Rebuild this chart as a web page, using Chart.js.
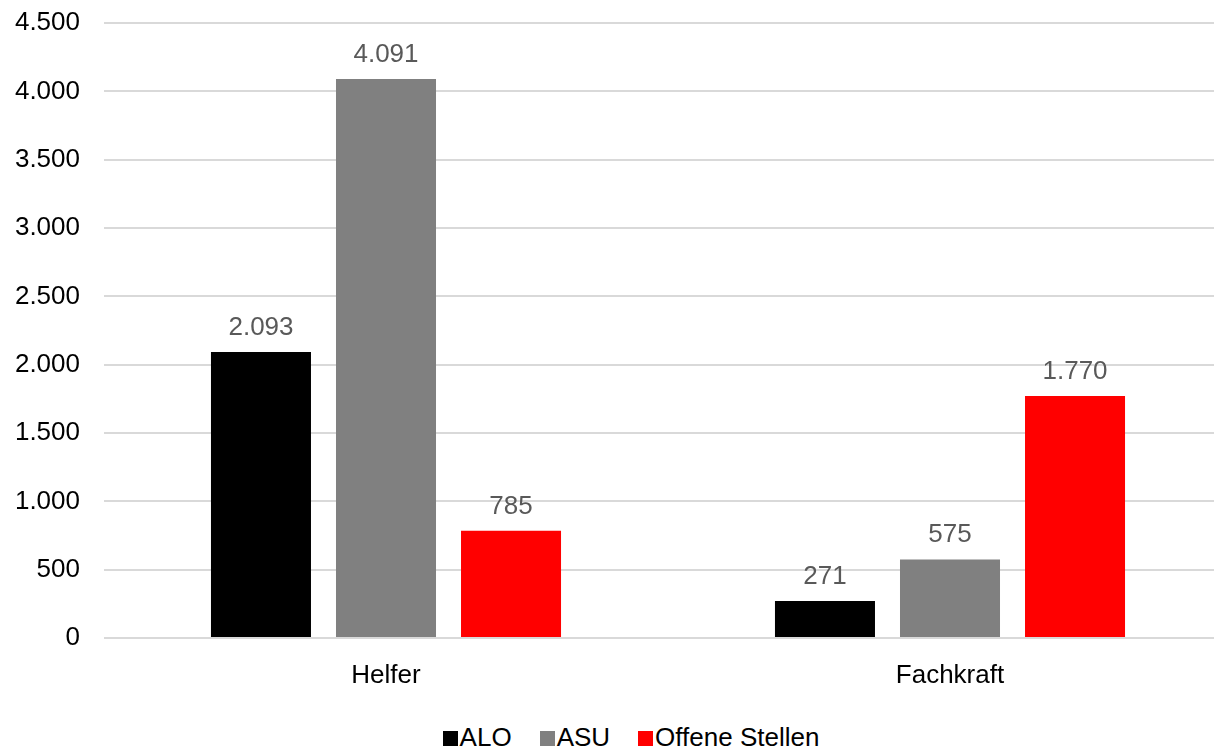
<!DOCTYPE html>
<html>
<head>
<meta charset="utf-8">
<script src="https://cdn.jsdelivr.net/npm/chart.js@4"></script>
<style>
  html, body { margin: 0; padding: 0; background: #fff; }
  #wrap { width: 1214px; height: 750px; overflow: hidden; position: relative; }
  #inner { width: 1264px; height: 750px; position: relative; }
  #legend {
    position: absolute; left: 0; top: 722px; width: 1262px;
    text-align: center; font: 26px 'Liberation Sans', Arial, sans-serif;
    line-height: 30px; color: #000; white-space: nowrap;
  }
  #legend span.item { margin: 0 14px; }
  #legend span.box {
    display: inline-block; width: 15px; height: 15px;
    margin-right: 2px; vertical-align: baseline;
  }
</style>
</head>
<body>
<div id="wrap"><div id="inner">
  <canvas id="barChart" width="1264" height="700"></canvas>
  <div id="legend"></div>
</div></div>
<script>
const categories = ['Helfer', 'Fachkraft'];
const seriesNames = ['ALO', 'ASU', 'Offene Stellen'];
const aloValues = [2093, 271];
const asuValues = [4091, 575];
const offeneValues = [785, 1770];
const yTicks = [0, 500, 1000, 1500, 2000, 2500, 3000, 3500, 4000, 4500];

const fmt = v => String(v).replace(/\B(?=(\d{3})+(?!\d))/g, '.');
const font = 'Liberation Sans, Arial, sans-serif';

const valueLabels = {
  id: 'valueLabels',
  afterDatasetsDraw: (chart) => {
    const {ctx} = chart;
    ctx.save();
    ctx.font = '26px ' + font;
    ctx.fillStyle = '#595959';
    ctx.textAlign = 'center';
    ctx.textBaseline = 'alphabetic';
    chart.data.datasets.forEach((ds, i) => {
      chart.getDatasetMeta(i).data.forEach((bar, j) => {
        ctx.fillText(fmt(ds.data[j]), bar.x, bar.y - 17);
      });
    });
    ctx.restore();
  }
};

const ctx = document.getElementById('barChart').getContext('2d');
const chart = new Chart(ctx, {
  type: 'bar',
  data: {
    labels: categories,
    datasets: [
      { label: seriesNames[0], data: aloValues, backgroundColor: '#000000' },
      { label: seriesNames[1], data: asuValues, backgroundColor: '#808080' },
      { label: seriesNames[2], data: offeneValues, backgroundColor: '#ff0000' }
    ]
  },
  options: {
    responsive: false,
    animation: false,
    layout: { padding: { top: 23, right: 32, left: 0, bottom: 0 } },
    datasets: { bar: { categoryPercentage: 0.665, barPercentage: 0.8 } },
    plugins: {
      legend: { display: false },
      tooltip: { enabled: false }
    },
    scales: {
      x: {
        grid: { display: false },
        border: { display: false },
        ticks: { font: { family: font, size: 26 }, color: '#000', padding: 14 },
        afterFit: s => { s.height = 62; s.paddingLeft = 0; s.paddingRight = 0; }
      },
      y: {
        min: 0,
        max: 4500,
        afterBuildTicks: s => { s.ticks = yTicks.map(v => ({ value: v })); },
        grid: { color: '#d9d9d9', lineWidth: 2, drawTicks: false },
        border: { display: false },
        ticks: {
          font: { family: font, size: 26 },
          color: '#000',
          padding: 24,
          callback: v => fmt(v)
        },
        afterFit: s => { s.width = 104; s.paddingTop = 0; s.paddingBottom = 0; }
      }
    }
  },
  plugins: [valueLabels]
});

// legend built from the chart's own datasets
document.getElementById('legend').innerHTML = chart.data.datasets.map(ds =>
  '<span class="item"><span class="box" style="background:' + ds.backgroundColor +
  '"></span>' + ds.label + '</span>').join('');
</script>
</body>
</html>
